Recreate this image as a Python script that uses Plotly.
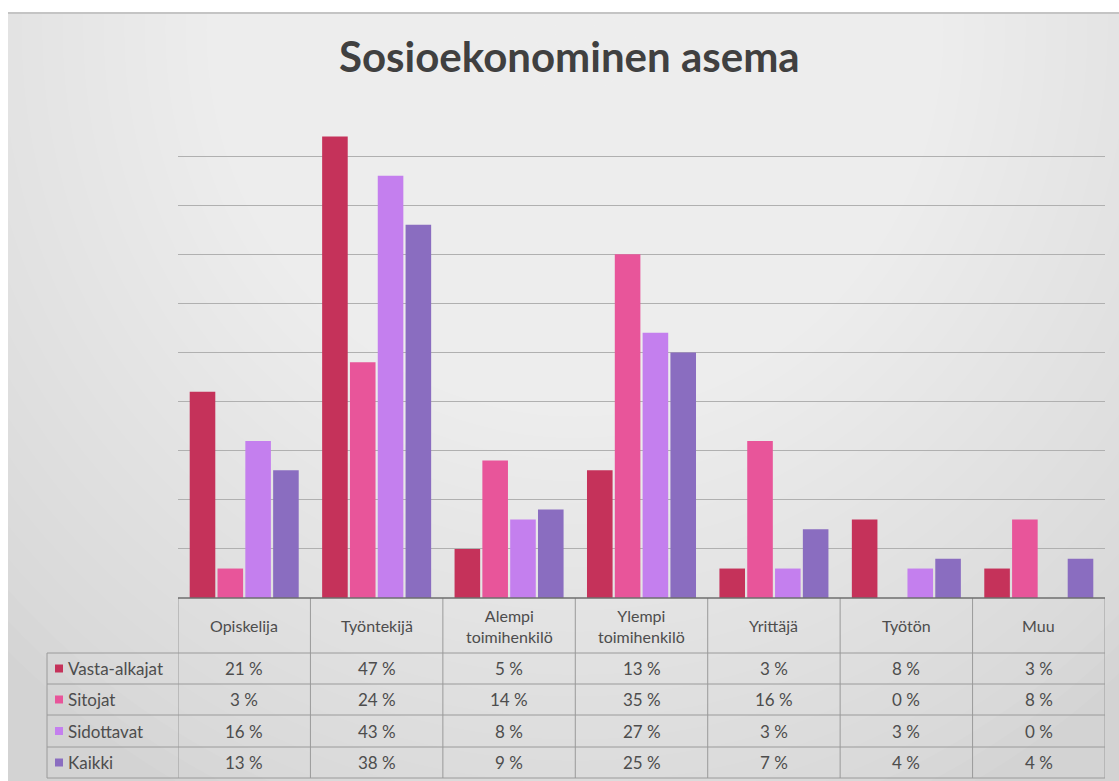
import plotly.graph_objects as go

# ---------------- data ----------------
categories = ["Opiskelija", "Työntekijä", "Alempi toimihenkilö", "Ylempi toimihenkilö",
              "Yrittäjä", "Työtön", "Muu"]
header_labels = ["Opiskelija", "Työntekijä", "Alempi<br>toimihenkilö", "Ylempi<br>toimihenkilö",
                 "Yrittäjä", "Työtön", "Muu"]
series_names = ["Vasta-alkajat", "Sitojat", "Sidottavat", "Kaikki"]
vasta_alkajat = [21, 47, 5, 13, 3, 8, 3]
sitojat = [3, 24, 14, 35, 16, 0, 8]
sidottavat = [16, 43, 8, 27, 3, 3, 0]
kaikki = [13, 38, 9, 25, 7, 4, 4]
series_values = [vasta_alkajat, sitojat, sidottavat, kaikki]
colors = ["#C5325A", "#E8559A", "#C47FEE", "#8A6DC0"]

# ---------------- geometry helpers ----------------
W, H = 1119, 781
def fx(px):
    return px / W
def fy(py):
    return 1 - py / H

PLOT_L, PLOT_R, PLOT_T, BASE = 178, 1105, 107, 598
HEADER_B = 653
ROW_LINES = [653, 684, 715, 747, 778]
LEG_L = 47
TEXT_COLOR = "#4d4d4d"
FONT = "Lato"

fig = go.Figure()
xs = list(range(len(categories)))
for name, vals, col in zip(series_names, series_values, colors):
    fig.add_trace(go.Bar(x=xs, y=vals, name=name, marker=dict(color=col, line=dict(width=0)),
                         hovertemplate="%{y} %<extra>" + name + "</extra>"))

shapes = []
# card background (light gray) + soft radial highlight
shapes.append(dict(type="rect", xref="paper", yref="paper", x0=fx(8), x1=1, y0=0, y1=fy(13),
                   fillcolor="#d3d3d3", line=dict(width=0), layer="below"))
n = 40
for k in range(n):
    r = 1.0 - k / n
    rx = 820 * r
    ry = 860 * r
    cx, cy = 575, 30
    shapes.append(dict(type="circle", xref="paper", yref="paper",
                       x0=fx(cx - rx), x1=fx(cx + rx),
                       y0=fy(cy + ry), y1=fy(cy - ry),
                       fillcolor="rgba(255,255,255,0.05)", line=dict(width=0), layer="below"))
# white strips outside the card (cover the highlight overflow)
shapes.append(dict(type="rect", xref="paper", yref="paper", x0=-0.01, x1=fx(8), y0=-0.01, y1=1.01,
                   fillcolor="white", line=dict(width=0), layer="below"))
shapes.append(dict(type="rect", xref="paper", yref="paper", x0=-0.01, x1=1.01, y0=fy(13), y1=1.01,
                   fillcolor="white", line=dict(width=0), layer="below"))
# top edge line of card
shapes.append(dict(type="line", xref="paper", yref="paper", x0=fx(8), x1=1, y0=fy(13), y1=fy(13),
                   line=dict(color="#c4c4c4", width=2), layer="below"))

# table horizontal lines
for py in ROW_LINES:
    shapes.append(dict(type="line", xref="paper", yref="paper", x0=fx(LEG_L), x1=fx(PLOT_R),
                       y0=fy(py), y1=fy(py), line=dict(color="#9a9a9a", width=1)))
# table vertical lines (category boundaries, through x axis scale)
for j in range(len(categories) + 1):
    shapes.append(dict(type="line", xref="x", yref="paper", x0=j - 0.5, x1=j - 0.5,
                       y0=fy(ROW_LINES[-1]), y1=fy(BASE), line=dict(color="#9a9a9a", width=1)))
# legend column left border
shapes.append(dict(type="line", xref="paper", yref="paper", x0=fx(LEG_L), x1=fx(LEG_L),
                   y0=fy(ROW_LINES[-1]), y1=fy(HEADER_B), line=dict(color="#9a9a9a", width=1)))
# baseline
shapes.append(dict(type="line", xref="paper", yref="paper", x0=fx(PLOT_L), x1=fx(PLOT_R),
                   y0=fy(BASE), y1=fy(BASE), line=dict(color="#6e6e6e", width=1.5)))

annotations = []
# title
annotations.append(dict(text="<b>Sosioekonominen asema</b>", x=fx(569), y=fy(56), xref="paper",
                        yref="paper", showarrow=False, xanchor="center", yanchor="middle",
                        font=dict(family=FONT, size=42, color="#404040")))
# header labels
for j, lab in enumerate(header_labels):
    annotations.append(dict(text=lab, x=j, xref="x", y=fy((BASE + HEADER_B) / 2), yref="paper",
                            showarrow=False, xanchor="center", yanchor="middle",
                            font=dict(family=FONT, size=16, color=TEXT_COLOR)))
# rows
for i, (name, vals, col) in enumerate(zip(series_names, series_values, colors)):
    yc = (ROW_LINES[i] + ROW_LINES[i + 1]) / 2
    shapes.append(dict(type="rect", xref="paper", yref="paper", x0=fx(55), x1=fx(63),
                       y0=fy(yc + 4), y1=fy(yc - 4), fillcolor=col, line=dict(width=0)))
    annotations.append(dict(text=name, x=fx(66), xref="paper", y=fy(yc), yref="paper",
                            showarrow=False, xanchor="left", yanchor="middle",
                            font=dict(family=FONT, size=17, color=TEXT_COLOR)))
    for j, v in enumerate(vals):
        annotations.append(dict(text=f"{v} %", x=j, xref="x", y=fy(yc), yref="paper",
                                showarrow=False, xanchor="center", yanchor="middle",
                                font=dict(family=FONT, size=17, color=TEXT_COLOR)))

fig.update_layout(
    width=W, height=H,
    margin=dict(l=0, r=0, t=0, b=0),
    paper_bgcolor="white",
    plot_bgcolor="rgba(0,0,0,0)",
    barmode="group", bargap=0.16, bargroupgap=0.08,
    showlegend=False,
    shapes=shapes,
    annotations=annotations,
    xaxis=dict(domain=[fx(PLOT_L), fx(PLOT_R)], range=[-0.5, len(categories) - 0.5],
               showticklabels=False, showgrid=False, zeroline=False, fixedrange=True),
    yaxis=dict(domain=[fy(BASE), fy(PLOT_T)], range=[0, 50], dtick=5, showticklabels=False,
               showgrid=True, gridcolor="#b0b0b0", gridwidth=1, zeroline=False, fixedrange=True),
    font=dict(family=FONT),
)

fig.write_html("out.html", config={"displayModeBar": False},
               post_script="document.body.style.margin='0';document.body.style.overflow='hidden';")
